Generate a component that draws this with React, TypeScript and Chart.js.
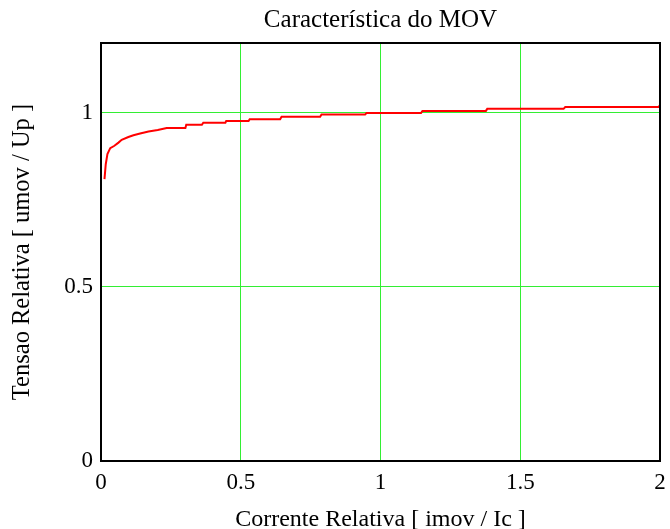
import React, { useEffect, useRef } from "react";
import { Chart, registerables } from "chart.js";

Chart.register(...registerables);

const chartTitle = "Característica do MOV";
const xAxisTitle = "Corrente Relativa [ imov / Ic ]";
const yAxisTitle = "Tensao Relativa [ umov / Up ]";

const xTickValues = [0, 0.5, 1, 1.5, 2];
const yTickValues = [0, 0.5, 1];

const currentValues = [
  0.0125, 0.017, 0.023, 0.033, 0.048, 0.0625, 0.074, 0.098, 0.116, 0.14, 0.17,
  0.203, 0.235, 0.302, 0.305, 0.361, 0.366, 0.445, 0.448, 0.528, 0.532, 0.641,
  0.646, 0.784, 0.789, 0.945, 0.95, 1.145, 1.15, 1.377, 1.382, 1.655, 1.661,
  1.995, 2.0,
];
const voltageValues = [
  0.809, 0.852, 0.881, 0.898, 0.905, 0.914, 0.922, 0.93, 0.935, 0.94, 0.946,
  0.95, 0.956, 0.956, 0.965, 0.965, 0.971, 0.971, 0.976, 0.976, 0.981, 0.981,
  0.988, 0.988, 0.995, 0.995, 0.999, 0.999, 1.005, 1.005, 1.011, 1.011, 1.016,
  1.016, 1.022,
];

const FONT = "'Liberation Serif', 'Times New Roman', serif";
const GRID = "#33ee33";

const framePlugin = {
  id: "frame",
  afterDraw(chart: any) {
    const { ctx, chartArea } = chart;
    ctx.save();
    ctx.strokeStyle = "#000";
    ctx.lineWidth = 2;
    ctx.strokeRect(
      chartArea.left,
      chartArea.top,
      chartArea.right - chartArea.left,
      chartArea.bottom - chartArea.top
    );
    ctx.restore();
  },
};

export default function App() {
  const ref = useRef<HTMLCanvasElement | null>(null);

  useEffect(() => {
    if (!ref.current) return;
    const data = currentValues.map((x, i) => ({ x, y: voltageValues[i] }));
    const chart = new Chart(ref.current, {
      type: "line",
      data: {
        datasets: [
          {
            data,
            borderColor: "#ff0000",
            borderWidth: 2,
            pointRadius: 0,
            tension: 0,
            fill: false,
          },
        ],
      },
      options: {
        responsive: false,
        animation: false,
        layout: { padding: { left: 0, right: 10, top: 0, bottom: 0 } },
        plugins: {
          legend: { display: false },
          tooltip: { enabled: false },
          title: {
            display: true,
            text: chartTitle,
            fullSize: false,
            color: "#000",
            font: { family: FONT, size: 25, weight: "normal", lineHeight: 1 },
            padding: { top: 8, bottom: 10 },
          },
        },
        scales: {
          x: {
            type: "linear",
            min: 0,
            max: 2,
            afterBuildTicks: (scale: any) => {
              scale.ticks = xTickValues.map((v) => ({ value: v }));
            },
            afterFit: (scale: any) => {
              scale.height = 68;
              scale.paddingLeft = 0;
              scale.paddingRight = 0;
            },
            ticks: {
              color: "#000",
              padding: 10,
              maxRotation: 0,
              font: { family: FONT, size: 23, lineHeight: 1 },
              callback: (v: any) => String(v),
            },
            grid: {
              color: GRID,
              lineWidth: 1,
              drawTicks: false,
            },
            border: { display: false },
            title: {
              display: true,
              text: xAxisTitle,
              color: "#000",
              font: { family: FONT, size: 24, lineHeight: 0.8 },
              padding: { top: 0, bottom: 0 },
            },
          },
          y: {
            type: "linear",
            min: 0,
            max: 1.2,
            afterBuildTicks: (scale: any) => {
              scale.ticks = yTickValues.map((v) => ({ value: v }));
            },
            afterFit: (scale: any) => {
              scale.width = 101;
              scale.paddingTop = 0;
              scale.paddingBottom = 0;
            },
            ticks: {
              color: "#000",
              padding: 8,
              font: { family: FONT, size: 23, lineHeight: 1 },
              callback: (v: any) => String(v),
            },
            grid: {
              color: GRID,
              lineWidth: 1,
              drawTicks: false,
            },
            border: { display: false },
            title: {
              display: true,
              text: yAxisTitle,
              color: "#000",
              font: { family: FONT, size: 24.5, lineHeight: 1 },
              padding: { top: 10, bottom: 0 },
            },
          },
        },
      },
      plugins: [framePlugin],
    });
    return () => chart.destroy();
  }, []);

  return (
    <div style={{ position: "absolute", left: 0, top: 0, width: 670, height: 529, background: "#fff" }}>
      <canvas ref={ref} width={670} height={529} style={{ display: "block" }} />
    </div>
  );
}
